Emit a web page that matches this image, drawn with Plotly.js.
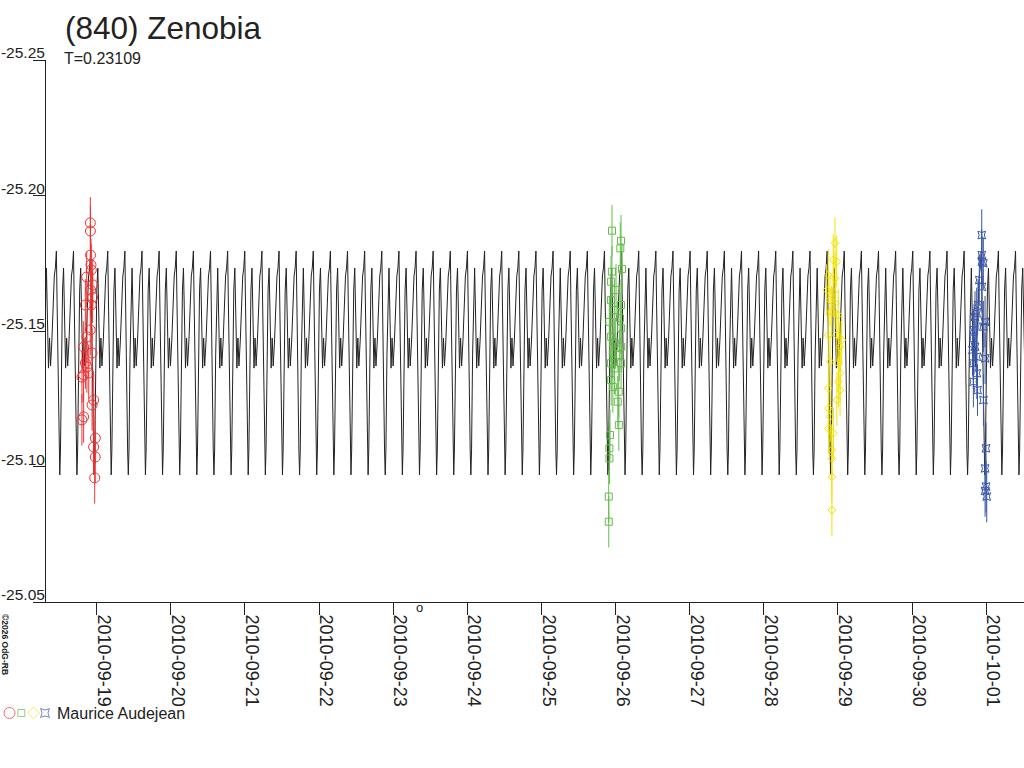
<!DOCTYPE html>
<html><head><meta charset="utf-8">
<script src="https://cdn.plot.ly/plotly-3.0.1.min.js"></script>
<style>html,body{margin:0;padding:0;background:#fff;}#chart{width:1024px;height:768px;}</style>
</head><body><div id="chart"></div>
<script>
// ---- chart texts ----
const titleText = '(840) Zenobia';
const subtitleText = 'T=0.23109';
const observer = 'Maurice Audejean';
const copyrightText = '©2026 OdG-RB';

// ---- model lightcurve (one period) ----
const period = 0.23109; // days
const epochMax = '2010-09-21 22:08'; // time of a main maximum
const modelPhase = [0.00, 0.04, 0.10, 0.16, 0.20, 0.24, 0.30, 0.36, 0.42, 0.48, 0.54, 0.60, 0.66, 0.74, 0.82, 0.88, 0.94];
const modelMag = [-25.1795, -25.1614, -25.1282, -25.1061, -25.0969, -25.1061, -25.1411, -25.1651, -25.1732, -25.1541, -25.1363, -25.1474, -25.1371, -25.1467, -25.1614, -25.1703, -25.1732];

// ---- axis ----
const xStart = '2010-09-18 07:35';
const xEnd = '2010-10-01 12:16';
const yTickVals = [-25.25, -25.20, -25.15, -25.10, -25.05];
const yTickText = ['-25.25', '-25.20', '-25.15', '-25.10', '-25.05'];
const magErr = 0.0095;

// ---- observations ----
const redT = ['2010-09-18 21:56','2010-09-18 21:58','2010-09-18 22:00','2010-09-18 22:09','2010-09-18 22:15','2010-09-18 20:46','2010-09-18 22:42','2010-09-18 22:02','2010-09-18 22:40','2010-09-18 20:19','2010-09-18 22:13','2010-09-18 21:55','2010-09-18 20:52','2010-09-18 19:47','2010-09-18 22:29','2010-09-18 20:21','2010-09-18 20:50','2010-09-18 21:25','2010-09-18 19:45','2010-09-18 19:14','2010-09-18 23:02','2010-09-18 22:30','2010-09-18 19:46','2010-09-18 19:13','2010-09-18 23:33','2010-09-18 23:01','2010-09-18 23:32','2010-09-18 23:21'];
const redM = [-25.1899,-25.1869,-25.1780,-25.1744,-25.1725,-25.1699,-25.1670,-25.1651,-25.1625,-25.1596,-25.1596,-25.1504,-25.1478,-25.1441,-25.1419,-25.1382,-25.1367,-25.1345,-25.1338,-25.1330,-25.1245,-25.1227,-25.1183,-25.1172,-25.1105,-25.1072,-25.1035,-25.0958];

const greenT = ['2010-09-25 22:52','2010-09-26 01:47','2010-09-26 01:33','2010-09-26 02:06','2010-09-25 22:50','2010-09-25 22:33','2010-09-26 00:10','2010-09-25 22:31','2010-09-26 01:45','2010-09-25 23:37','2010-09-26 01:27','2010-09-25 22:00','2010-09-26 01:49','2010-09-25 22:35','2010-09-25 23:56','2010-09-26 01:50','2010-09-25 23:06','2010-09-26 01:14','2010-09-25 22:34','2010-09-26 01:48','2010-09-25 23:39','2010-09-25 22:36','2010-09-25 23:08','2010-09-26 01:02','2010-09-26 00:43','2010-09-26 01:04','2010-09-25 22:13','2010-09-25 22:01','2010-09-25 22:02','2010-09-25 21:48','2010-09-25 21:49'];
const greenM = [-25.1870,-25.1833,-25.1805,-25.1729,-25.1719,-25.1682,-25.1651,-25.1614,-25.1596,-25.1577,-25.1547,-25.1534,-25.1510,-25.1479,-25.1455,-25.1442,-25.1418,-25.1411,-25.1381,-25.1381,-25.1362,-25.1319,-25.1294,-25.1276,-25.1239,-25.1153,-25.1116,-25.1067,-25.1030,-25.0889,-25.0796];

const yellowT = ['2010-09-28 23:04','2010-09-28 22:31','2010-09-28 23:37','2010-09-28 20:53','2010-09-28 23:05','2010-09-28 20:22','2010-09-28 22:32','2010-09-28 21:27','2010-09-28 23:06','2010-09-28 22:00','2010-09-29 00:08','2010-09-28 20:54','2010-09-28 23:38','2010-09-29 01:14','2010-09-29 00:41','2010-09-28 21:28','2010-09-29 00:09','2010-09-29 00:42','2010-09-29 00:10','2010-09-28 20:55','2010-09-29 00:43','2010-09-28 23:39','2010-09-28 20:56','2010-09-28 21:29','2010-09-28 20:57','2010-09-28 22:33','2010-09-28 22:01','2010-09-28 22:02','2010-09-28 22:03','2010-09-28 22:04'];
const yellowM = [-25.1824,-25.1762,-25.1756,-25.1707,-25.1694,-25.1651,-25.1645,-25.1614,-25.1602,-25.1571,-25.1559,-25.1485,-25.1485,-25.1467,-25.1442,-25.1387,-25.1381,-25.1344,-25.1313,-25.1289,-25.1282,-25.1245,-25.1215,-25.1184,-25.1141,-25.1123,-25.1061,-25.1030,-25.0962,-25.0839];

const blueT = ['2010-09-30 22:35','2010-09-30 22:36','2010-09-30 22:37','2010-09-30 23:06','2010-09-30 21:48','2010-09-30 22:38','2010-09-30 20:57','2010-09-30 20:24','2010-09-30 23:39','2010-09-30 23:07','2010-09-30 19:51','2010-09-30 20:25','2010-09-30 20:58','2010-09-30 23:40','2010-09-30 19:52','2010-09-30 20:59','2010-09-30 19:53','2010-09-30 23:08','2010-09-30 23:58','2010-09-30 23:41','2010-09-30 23:59','2010-10-01 00:12','2010-09-30 23:40','2010-09-30 20:05','2010-09-30 21:23','2010-09-30 19:36','2010-09-30 21:13'];
const blueM = [-25.1854,-25.1780,-25.1756,-25.1750,-25.1688,-25.1663,-25.1565,-25.1552,-25.1534,-25.1516,-25.1473,-25.1442,-25.1405,-25.1399,-25.1381,-25.1344,-25.1313,-25.1245,-25.1067,-25.0993,-25.0926,-25.0889,-25.0910,-25.1504,-25.1596,-25.1430,-25.1282];

const seriesColors = ['#ee3535', '#66bb4c', '#f2e200', '#3a56a8'];
const seriesSymbols = ['circle-open', 'square-open', 'diamond-open', 'star-square-open'];

// ---- helpers ----
function ms(s) {
  const parts = s.split(' ');
  const d = parts[0].split('-').map(Number);
  const t = (parts[1] || '00:00').split(':').map(Number);
  return Date.UTC(d[0], d[1] - 1, d[2], t[0], t[1]);
}
const DAY = 86400000;
const x0 = ms(xStart), x1 = ms(xEnd), tMax = ms(epochMax);

// repeat the one-period model shape across the visible range
const modelX = [], modelY = [];
const kStart = Math.floor((x0 - tMax) / (period * DAY)) - 1;
const kEnd = Math.ceil((x1 - tMax) / (period * DAY)) + 1;
for (let k = kStart; k <= kEnd; k++) {
  for (let j = 0; j < modelPhase.length; j++) {
    modelX.push(tMax + (k + modelPhase[j]) * period * DAY);
    modelY.push(modelMag[j]);
  }
}

const font = 'Liberation Sans, Arial, sans-serif';
const txt = '#222';

function obsTrace(xs, ys, i, size) {
  return {
    x: xs, y: ys, type: 'scatter', mode: 'markers',
    marker: { symbol: seriesSymbols[i], size: size, color: seriesColors[i], line: { width: 1, color: seriesColors[i] } },
    error_y: { type: 'constant', value: magErr, color: seriesColors[i], thickness: 1, width: 0 },
    hoverinfo: 'x+y'
  };
}

const traces = [
  { x: modelX, y: modelY, type: 'scatter', mode: 'lines', line: { color: '#222', width: 1 }, hoverinfo: 'skip' },
  obsTrace(redT, redM, 0, 10),
  obsTrace(greenT, greenM, 1, 7),
  obsTrace(yellowT, yellowM, 2, 6),
  obsTrace(blueT, blueM, 3, 7),
  { // legend glyphs
    x: [9.5, 21.3, 33.5, 45], y: [0, 0, 0, 0], xaxis: 'x2', yaxis: 'y2', type: 'scatter', mode: 'markers',
    marker: { symbol: seriesSymbols, color: seriesColors, size: [11, 7, 9, 8], line: { width: 1, color: seriesColors } },
    hoverinfo: 'skip'
  }
];

const H = 768, T = 60, B = 30, PH = H - T - B;
function py(px) { return (H - B - px) / PH; }

const layout = {
  width: 1024, height: 768,
  margin: { l: 0, r: 0, t: T, b: B, pad: 0 },
  paper_bgcolor: '#fff', plot_bgcolor: '#fff',
  showlegend: false,
  font: { family: font, color: txt },
  title: { text: titleText, x: 65 / 1024, xanchor: 'left', xref: 'paper', y: 1 - 28 / 768, yref: 'container', yanchor: 'middle',
           font: { family: font, size: 31.5, color: txt } },
  xaxis: {
    domain: [46 / 1024, 1], type: 'date', range: [x0, x1],
    tick0: ms('2010-09-19 00:00'), dtick: DAY, tickformat: '%Y-%m-%d', tickangle: 90,
    ticks: 'outside', ticklen: 12, tickcolor: '#222', tickwidth: 1,
    showline: true, linecolor: '#222', linewidth: 1, showgrid: false, zeroline: false,
    tickfont: { family: font, size: 18, color: txt }, ticklabelshift: 7, ticklabelstandoff: -4, anchor: 'y'
  },
  yaxis: {
    domain: [py(602), 1], range: [-25.05, -25.25],
    tickvals: yTickVals, ticktext: yTickText,
    ticks: 'outside', ticklen: 12, tickcolor: '#222', tickwidth: 1,
    ticklabelposition: 'outside top', ticklabelstandoff: -3, ticklabelshift: -4,
    showline: true, linecolor: '#222', linewidth: 1, showgrid: false, zeroline: false,
    tickfont: { family: font, size: 15.5, color: txt }, anchor: 'x'
  },
  xaxis2: { domain: [0, 60 / 1024], range: [0, 60], visible: false, anchor: 'y2', fixedrange: true },
  yaxis2: { domain: [py(723), py(703)], range: [-1, 1], visible: false, anchor: 'x2', fixedrange: true },
  annotations: [
    { text: subtitleText, xref: 'paper', yref: 'paper', x: 62 / 1024, y: py(58.5), xanchor: 'left', yanchor: 'middle',
      showarrow: false, font: { family: font, size: 16, color: txt } },
    { text: observer, xref: 'paper', yref: 'paper', x: 55 / 1024, y: py(713), xanchor: 'left', yanchor: 'middle',
      showarrow: false, font: { family: font, size: 16, color: txt } },
    { text: copyrightText, xref: 'paper', yref: 'paper', x: 5 / 1024, y: py(644), xanchor: 'center', yanchor: 'middle',
      textangle: 90, showarrow: false, font: { family: font, size: 8.5, color: txt, weight: 'bold' } },
    { text: 'o', xref: 'x', yref: 'paper', x: ms('2010-09-23 08:41'), y: py(607), xanchor: 'center', yanchor: 'middle',
      showarrow: false, font: { family: font, size: 13, color: txt } }
  ]
};

Plotly.newPlot('chart', traces, layout, { displayModeBar: false, staticPlot: true });
</script>
</body></html>
